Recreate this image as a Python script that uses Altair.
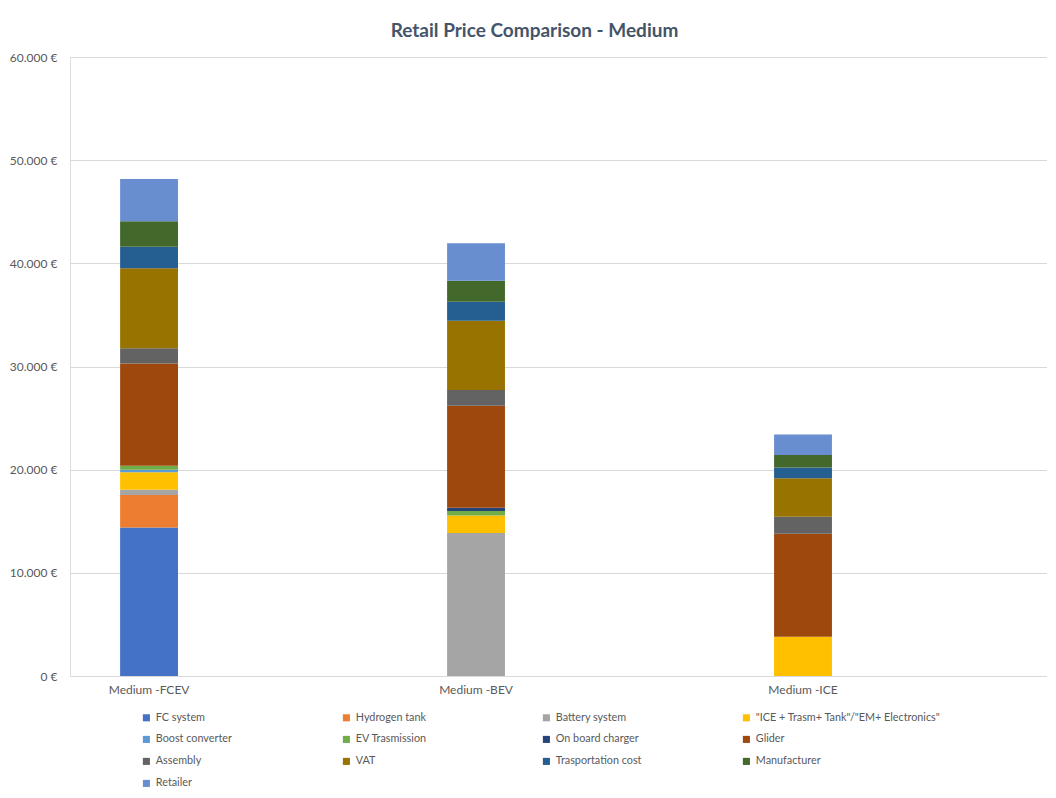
import altair as alt
import pandas as pd

categories = ["Medium -FCEV", "Medium -BEV", "Medium -ICE"]
series = [
    "FC system",
    "Hydrogen tank",
    "Battery system",
    '"ICE + Trasm+ Tank"/"EM+ Electronics"',
    "Boost converter",
    "EV Trasmission",
    "On board charger",
    "Glider",
    "Assembly",
    "VAT",
    "Trasportation cost",
    "Manufacturer",
    "Retailer",
]
colors = [
    "#4472C4", "#ED7D31", "#A5A5A5", "#FFC000", "#5B9BD5", "#70AD47",
    "#264478", "#9E480E", "#636363", "#997300", "#255E91", "#43682B", "#698ED0",
]
fcev = [14400, 3150, 500, 1700, 230, 400, 0, 9900, 1500, 7750, 2070, 2480, 4100]
bev = [0, 0, 13850, 1700, 0, 450, 300, 9900, 1520, 6720, 1840, 2040, 3620]
ice = [0, 0, 0, 3800, 0, 0, 0, 9980, 1650, 3750, 1040, 1200, 2000]

rows = []
for cat, vals in zip(categories, [fcev, bev, ice]):
    for i, (s, v) in enumerate(zip(series, vals)):
        rows.append({"category": cat, "series": s, "value": v, "order": i})
df = pd.DataFrame(rows)

FONT = "Lato"
GRAY = "#595959"

chart = (
    alt.Chart(df)
    .mark_bar()
    .encode(
        x=alt.X(
            "category:N",
            sort=categories,
            scale=alt.Scale(paddingInner=0.823, paddingOuter=0.4055, align=0.189),
            axis=alt.Axis(
                title=None, labelAngle=0, ticks=False, domainColor="#D9D9D9",
                labelColor=GRAY, labelFontSize=12, labelFont=FONT, labelPadding=8,
            ),
        ),
        y=alt.Y(
            "value:Q",
            stack="zero",
            scale=alt.Scale(domain=[0, 60000], nice=False),
            axis=alt.Axis(
                title=None, values=[0, 10000, 20000, 30000, 40000, 50000, 60000],
                labelExpr="replace(format(datum.value, ',.0f'), ',', '.') + ' €'",
                domain=False, ticks=False, gridColor="#D9D9D9", labelColor=GRAY,
                labelFontSize=12, labelFont=FONT, labelPadding=13,
            ),
        ),
        color=alt.Color(
            "series:N",
            scale=alt.Scale(domain=series, range=colors),
            legend=alt.Legend(
                title=None, orient="none", legendX=71, legendY=655, columns=4,
                direction="horizontal", gridAlign="all", symbolType="square",
                symbolSize=50, symbolStrokeWidth=0, labelFont=FONT, labelFontSize=10.8,
                labelColor=GRAY, columnPadding=0, rowPadding=10, labelLimit=300,
                labelOffset=4,
            ),
        ),
        order=alt.Order("order:Q", sort="ascending"),
    )
    .properties(
        width=977,
        height=619,
        padding={"left": 62, "top": 49, "right": 0, "bottom": 114},
        autosize=alt.AutoSizeParams(type="none"),
        title=alt.TitleParams(
            "Retail Price Comparison - Medium", font=FONT, fontSize=19,
            fontWeight="bold", color="#44546A", anchor="middle", dx=-24, offset=10,
        ),
    )
    .configure_view(stroke=None)
    .configure(background="white")
)

chart.save("out.html", embed_options={"renderer": "svg", "actions": False})
